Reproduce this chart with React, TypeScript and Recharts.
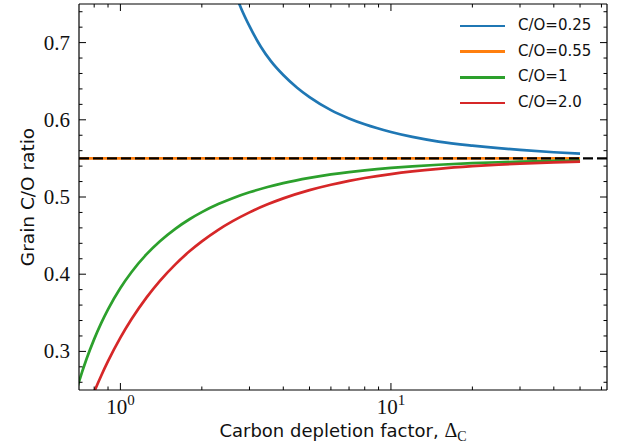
import React from 'react';
import { LineChart, Line, XAxis, YAxis, ReferenceLine, Legend } from 'recharts';

// Carbon depletion factor (x) and grain C/O ratio (y)
const deltaCO025 = [2.4, 2.6, 2.8, 3.0, 3.3, 3.6, 4.0, 4.5, 5.0, 6.0, 7.0, 8.0, 10, 12, 15, 20, 25, 30, 40, 50];
const grainCO025 = [0.812, 0.7726, 0.7436, 0.7213, 0.695, 0.676, 0.658, 0.6415, 0.6293, 0.6125, 0.6018, 0.5942, 0.5842, 0.5778, 0.5718, 0.5665, 0.5632, 0.561, 0.558, 0.5562];

const deltaCO055 = [0.6, 50];
const grainCO055 = [0.55, 0.55];

const deltaCO1 = [0.66, 0.7, 0.75, 0.8, 0.85, 0.9, 1.0, 1.1, 1.25, 1.4, 1.6, 1.8, 2.0, 2.3, 2.6, 3.0, 3.5, 4.0, 5.0, 6.0, 7.0, 8.0, 10, 12, 15, 20, 25, 30, 40, 50];
const grainCO1 = [0.2269, 0.2586, 0.2904, 0.3159, 0.3369, 0.3544, 0.3821, 0.4028, 0.4259, 0.4427, 0.4591, 0.4712, 0.4804, 0.4908, 0.4985, 0.5061, 0.5129, 0.5179, 0.5247, 0.5292, 0.5323, 0.5346, 0.5377, 0.5397, 0.5418, 0.5438, 0.545, 0.5458, 0.5467, 0.5473];

const deltaCO2 = [0.72, 0.75, 0.8, 0.85, 0.9, 1.0, 1.1, 1.25, 1.4, 1.6, 1.8, 2.0, 2.3, 2.6, 3.0, 3.5, 4.0, 5.0, 6.0, 7.0, 8.0, 10, 12, 15, 20, 25, 30, 40, 50];
const grainCO2 = [0.206, 0.2228, 0.2476, 0.2688, 0.2873, 0.3178, 0.3419, 0.37, 0.3914, 0.4131, 0.4296, 0.4425, 0.4575, 0.4687, 0.4801, 0.4905, 0.4982, 0.5089, 0.5159, 0.5209, 0.5246, 0.5297, 0.5331, 0.5365, 0.5399, 0.542, 0.5433, 0.5449, 0.5459];

const referenceRatio = 0.55;

const seriesNames = ['C/O=0.25', 'C/O=0.55', 'C/O=1', 'C/O=2.0'];
const seriesColors = ['#1f77b4', '#ff7f0e', '#2ca02c', '#d62728'];
const seriesX = [deltaCO025, deltaCO055, deltaCO1, deltaCO2];
const seriesY = [grainCO025, grainCO055, grainCO1, grainCO2];

const xTicks = [0.8, 0.9, 1, 2, 3, 4, 5, 6, 7, 8, 9, 10, 20, 30, 40, 50, 60];
const xMajorTicks = [1, 10];
const xMajorExponents = ['0', '1'];
const yTicks = [0.26, 0.28, 0.3, 0.32, 0.34, 0.36, 0.38, 0.4, 0.42, 0.44, 0.46, 0.48, 0.5, 0.52, 0.54, 0.56, 0.58, 0.6, 0.62, 0.64, 0.66, 0.68, 0.7, 0.72, 0.74];
const yMajorTicks = [0.3, 0.4, 0.5, 0.6, 0.7];
const yTickLabels = ['0.3', '0.4', '0.5', '0.6', '0.7'];

const xDomain = [0.703, 62.9];
const yDomain = [0.25, 0.75];

// layout
const CHART_W = 619;
const CHART_H = 444;
const MARGIN = { top: 4, right: 12, bottom: 0, left: 0 };
const Y_AXIS_W = 79;
const X_AXIS_H = 54;
const PLOT_W = CHART_W - MARGIN.left - MARGIN.right - Y_AXIS_W;
const PLOT_H = CHART_H - MARGIN.top - MARGIN.bottom - X_AXIS_H;

const SERIF = "'Liberation Serif', 'DejaVu Serif', serif";
const SANS = "'DejaVu Sans', 'Noto Sans', sans-serif";
const TEXT = '#111';
const FRAME = '#000';

const seriesData = seriesX.map((xs, i) => xs.map((x, j) => ({ x, y: seriesY[i][j] })));

const near = (a: number, b: number) => Math.abs(a - b) < 1e-9;
const MAJOR = 7;
const MINOR = 3.5;

const BottomTick = (props: any) => {
  const { x, y, payload } = props;
  const idx = xMajorTicks.findIndex((m) => near(m, payload.value));
  const major = idx >= 0;
  const len = major ? MAJOR : MINOR;
  const top = y - PLOT_H;
  return (
    <g>
      <line x1={x} x2={x} y1={y} y2={y - len} stroke={FRAME} strokeWidth={1} />
      <line x1={x} x2={x} y1={top} y2={top + len} stroke={FRAME} strokeWidth={1} />
      {major && (
        <text x={x} y={y + 24} textAnchor="middle" fontFamily={SERIF} fontSize={21} fill={TEXT}>
          10
          <tspan dy={-9} fontSize={15}>{xMajorExponents[idx]}</tspan>
        </text>
      )}
    </g>
  );
};

const LeftTick = (props: any) => {
  const { x, y, payload } = props;
  const idx = yMajorTicks.findIndex((m) => near(m, payload.value));
  const major = idx >= 0;
  const len = major ? MAJOR : MINOR;
  const right = x + PLOT_W;
  return (
    <g>
      <line x1={x} x2={x + len} y1={y} y2={y} stroke={FRAME} strokeWidth={1} />
      <line x1={right} x2={right - len} y1={y} y2={y} stroke={FRAME} strokeWidth={1} />
      {major && (
        <text x={x - 9} y={y + 7} textAnchor="end" fontFamily={SERIF} fontSize={21} fill={TEXT}>
          {yTickLabels[idx]}
        </text>
      )}
    </g>
  );
};

const XLabel = (props: any) => {
  const vb = props.viewBox || { x: Y_AXIS_W, y: PLOT_H + MARGIN.top, width: PLOT_W, height: X_AXIS_H };
  const cx = vb.x + vb.width / 2;
  return (
    <text x={cx} y={437} textAnchor="middle" fontFamily={SANS} fontSize={18} fill={TEXT}>
      Carbon depletion factor,{' '}
      <tspan fontFamily={SERIF} fontSize={20}>Δ</tspan>
      <tspan fontFamily={SERIF} fontSize={14} dy={4}>C</tspan>
    </text>
  );
};

const YLabel = (props: any) => {
  const vb = props.viewBox || { x: 0, y: MARGIN.top, width: Y_AXIS_W, height: PLOT_H };
  const cy = vb.y + vb.height / 2;
  const lx = 34;
  return (
    <text x={lx} y={cy} textAnchor="middle" fontFamily={SANS} fontSize={18.5} fill={TEXT} transform={`rotate(-90, ${lx}, ${cy})`}>
      Grain C/O ratio
    </text>
  );
};

const LegendContent = (props: any) => {
  const payload = props.payload || [];
  return (
    <div style={{ width: 160 }}>
      {payload.map((item: any) => (
        <div key={item.value} style={{ display: 'flex', alignItems: 'center', height: 25.7 }}>
          <div style={{ width: 45, height: 2.7, background: item.color, marginRight: 13 }} />
          <span style={{ fontFamily: SANS, fontSize: 15, color: TEXT, lineHeight: '25.7px' }}>{item.value}</span>
        </div>
      ))}
    </div>
  );
};

export default function App() {
  return (
    <div style={{ position: 'absolute', left: 0, top: 0, background: '#fff' }}>
      <LineChart width={CHART_W} height={CHART_H} margin={MARGIN}>
        <XAxis
          type="number"
          dataKey="x"
          scale="log"
          domain={xDomain}
          allowDataOverflow
          ticks={xTicks}
          interval={0}
          height={X_AXIS_H}
          tickSize={0}
          tickMargin={0}
          tickLine={false}
          axisLine={{ stroke: FRAME, strokeWidth: 1.2 }}
          tick={<BottomTick />}
          label={<XLabel />}
        />
        <YAxis
          type="number"
          domain={yDomain}
          allowDataOverflow
          ticks={yTicks}
          interval={0}
          width={Y_AXIS_W}
          tickSize={0}
          tickMargin={0}
          tickLine={false}
          axisLine={{ stroke: FRAME, strokeWidth: 1.2 }}
          tick={<LeftTick />}
          label={<YLabel />}
        />
        {seriesNames.map((name, i) => (
          <Line
            key={name}
            data={seriesData[i]}
            dataKey="y"
            name={name}
            type="monotone"
            stroke={seriesColors[i]}
            strokeWidth={2.7}
            dot={false}
            activeDot={false}
            isAnimationActive={false}
          />
        ))}
        <ReferenceLine y={referenceRatio} stroke="#000" strokeWidth={2.2} strokeDasharray="10 4" ifOverflow="visible" />
        <ReferenceLine y={yDomain[1]} stroke={FRAME} strokeWidth={1.2} ifOverflow="visible" />
        <ReferenceLine x={xDomain[1]} stroke={FRAME} strokeWidth={1.2} ifOverflow="visible" />
        <Legend
          layout="vertical"
          align="center"
          verticalAlign="middle"
          wrapperStyle={{ top: 13, left: 460, width: 160 }}
          content={<LegendContent />}
        />
      </LineChart>
    </div>
  );
}
